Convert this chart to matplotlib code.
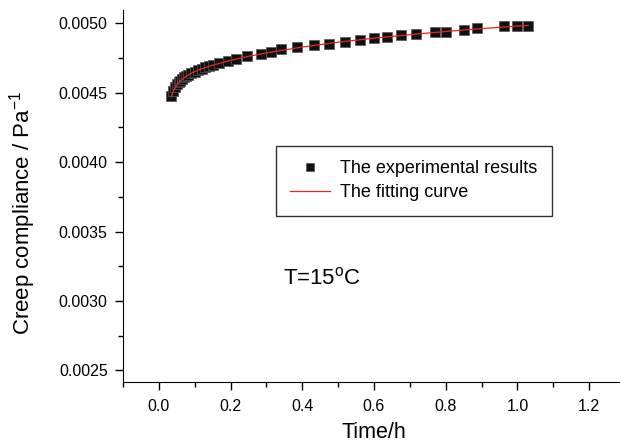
import numpy as np
import matplotlib
matplotlib.use('Agg')
import matplotlib.pyplot as plt
from matplotlib.ticker import MultipleLocator

plt.rcParams['font.family'] = ['Liberation Sans', 'DejaVu Sans']
plt.rcParams['mathtext.fontset'] = 'custom'
plt.rcParams['mathtext.rm'] = 'Liberation Sans'

# experimental points
t_exp = [0.035, 0.040, 0.045, 0.050, 0.055, 0.060, 0.065, 0.070, 0.075, 0.080,
         0.090, 0.100, 0.110, 0.120, 0.130, 0.140, 0.150,
         0.169, 0.193, 0.214, 0.247, 0.284, 0.312, 0.341, 0.385, 0.434,
         0.474, 0.520, 0.560, 0.599, 0.637, 0.676, 0.716, 0.769, 0.802,
         0.851, 0.886, 0.962, 0.999, 1.030]
j_exp = [0.004475, 0.004515, 0.004540, 0.004560, 0.004575, 0.004588, 0.004600,
         0.004610, 0.004618, 0.004626, 0.004640, 0.004652, 0.004663, 0.004673,
         0.004682, 0.004690, 0.004700,
         0.004717, 0.004731, 0.004743, 0.004765, 0.004777, 0.004796, 0.004813,
         0.004832, 0.004841, 0.004853, 0.004868, 0.004880, 0.004892, 0.004902,
         0.004914, 0.004926, 0.004935, 0.004940, 0.004952, 0.004964, 0.004981,
         0.004981, 0.004981]

# fitted curve
t_fit = [0.035, 0.040, 0.050, 0.060, 0.070, 0.080, 0.100, 0.120, 0.150, 0.200,
         0.250, 0.300, 0.400, 0.500, 0.600, 0.700, 0.800, 0.900, 1.000, 1.030]
j_fit = [0.004470, 0.004510, 0.004555, 0.004585, 0.004607, 0.004625, 0.004652,
         0.004673, 0.004698, 0.004733, 0.004762, 0.004787, 0.004829, 0.004864,
         0.004893, 0.004918, 0.004941, 0.004962, 0.004980, 0.004985]

fig = plt.figure(figsize=(6.2, 4.48), dpi=100)
ax = fig.add_axes([123 / 620, 1 - 382 / 448, 502 / 620, 372 / 448])

ax.plot(t_exp, j_exp, 's', color='#111111', mec='#555555', mew=0.5, ms=7,
        label='The experimental results')
ax.plot(t_fit, j_fit, '-', color='#e8261c', lw=0.9, label='The fitting curve')

ax.set_xlim(-0.1, 1.3)
ax.set_ylim(0.002416, 0.005096)
ax.spines['top'].set_visible(False)
ax.spines['right'].set_visible(False)
ax.xaxis.set_minor_locator(MultipleLocator(0.1))
ax.yaxis.set_minor_locator(MultipleLocator(0.00025))
ax.set_xticks([0.0, 0.2, 0.4, 0.6, 0.8, 1.0, 1.2])
ax.set_yticks([0.0025, 0.0030, 0.0035, 0.0040, 0.0045, 0.0050])
ax.xaxis.set_major_formatter(plt.FormatStrFormatter('%.1f'))
ax.yaxis.set_major_formatter(plt.FormatStrFormatter('%.4f'))
ax.tick_params(which='major', length=6, width=1, labelsize=11.5, direction='out')
ax.tick_params(axis='y', which='major', pad=5)
ax.tick_params(axis='x', which='major', pad=6)
ax.tick_params(which='minor', length=3.5, width=1, direction='out')
ax.set_xlabel('Time/h', fontsize=15.5, labelpad=6)
ax.set_ylabel('Creep compliance / Pa$^{-1}$', fontsize=16)
ax.yaxis.set_label_coords(-0.169, 0.454)

ax.text(0.345, 0.003165, r'T=15$^{\rm o}$C', fontsize=16, va='center', ha='left')

leg = ax.legend(loc='upper left', bbox_to_anchor=(276 / 620, 1 - 146 / 448),
                bbox_transform=fig.transFigure, fontsize=13, frameon=True,
                fancybox=False, edgecolor='black', handlelength=2.2,
                handletextpad=0.55, borderpad=0.8, borderaxespad=0,
                labelspacing=0.37, markerscale=0.75)
leg.get_frame().set_linewidth(1.0)

fig.savefig('out.png', dpi=100)
